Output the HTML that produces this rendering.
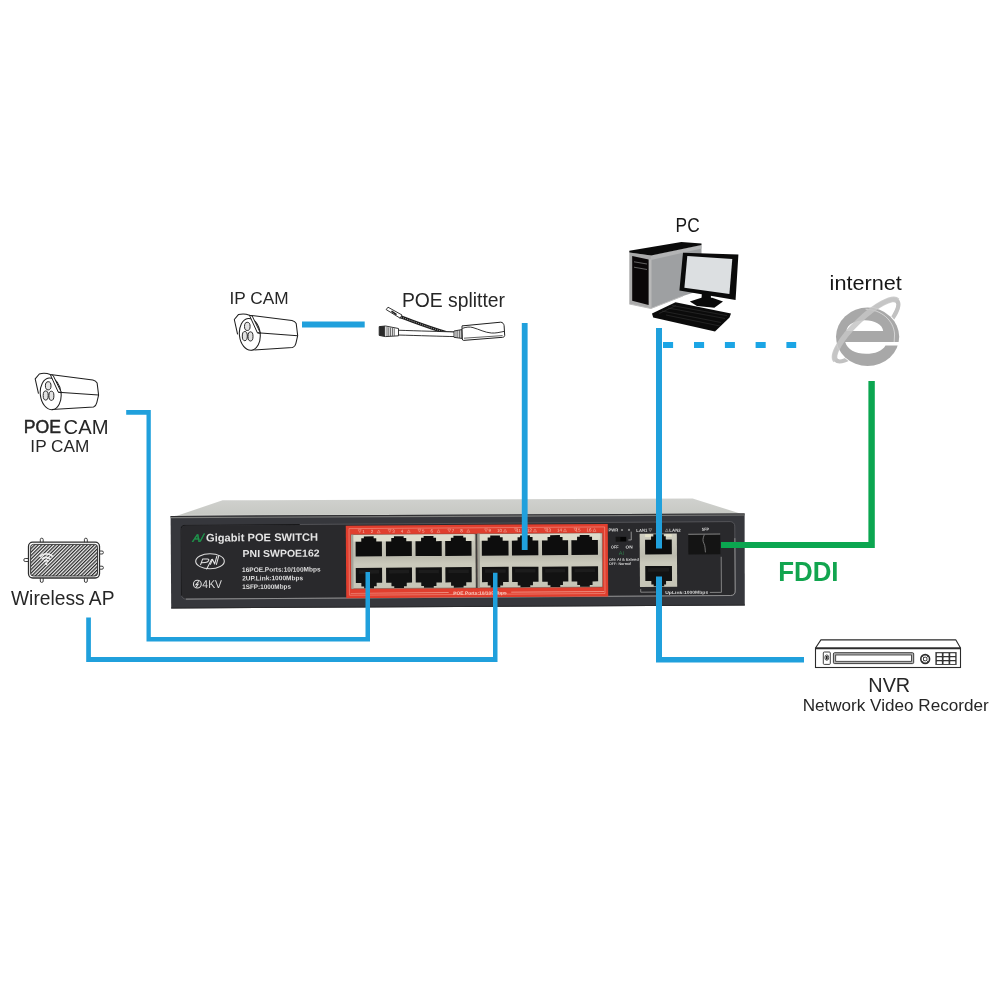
<!DOCTYPE html>
<html><head><meta charset="utf-8">
<style>
html,body{margin:0;padding:0;background:#fff;}
body{width:1000px;height:1000px;overflow:hidden;position:relative;font-family:"Liberation Sans",sans-serif;}
svg{position:absolute;left:0;top:0;will-change:transform;}
</style></head>
<body>
<svg width="1000" height="1000" viewBox="0 0 1000 1000" font-family="Liberation Sans, sans-serif">
<defs>
  <pattern id="hatch" patternUnits="userSpaceOnUse" width="2.48" height="2.48" patternTransform="rotate(45)">
    <rect width="2.48" height="2.48" fill="#f4f4f4"/>
    <rect width="1.25" height="2.48" fill="#2c2c2c"/>
  </pattern>
  <linearGradient id="topg" x1="0" y1="0" x2="0" y2="1">
    <stop offset="0" stop-color="#d0d1ce"/>
    <stop offset="0.85" stop-color="#c7c9c4"/>
    <stop offset="1" stop-color="#d6d7d4"/>
  </linearGradient>
  <linearGradient id="portg" x1="0" y1="0" x2="0" y2="1">
    <stop offset="0" stop-color="#cfcec1"/>
    <stop offset="0.42" stop-color="#bcbbae"/>
    <stop offset="0.55" stop-color="#cac9bb"/>
    <stop offset="1" stop-color="#c6c5b7"/>
  </linearGradient>
</defs>

<!-- ============ LINES (behind) ============ -->
<g fill="#1ba5e5">
  <rect x="663" y="342" width="10.1" height="6"/>
  <rect x="694" y="342" width="10.1" height="6"/>
  <rect x="724.9" y="342" width="10" height="6"/>
  <rect x="755.6" y="342" width="10.1" height="6"/>
  <rect x="786.4" y="342" width="9.8" height="6"/>
</g>

<!-- ============ SWITCH ============ -->
<g id="switch">
  <polygon points="174.8,516.4 222.6,500.3 692.6,498.4 741,513.8" fill="url(#topg)"/>
  <polygon points="170.6,516 744.6,513.4 744.8,605.4 171.2,608.4" fill="#36373c"/>
  <polygon points="170.6,516 744.6,513.4 744.6,514.5 170.6,517.1" fill="#2e2e30"/>
  <polygon points="170.6,517.1 744.6,514.5 744.6,515.6 170.6,518.2" fill="#7d7e7c"/>
  <polygon points="171.2,607.4 744.8,604.4 744.8,605.4 171.2,608.4" fill="#2a2a2c"/>
  <g transform="rotate(-0.38 458 560)">
    <rect x="181.2" y="523.4" width="553.8" height="73.9" rx="4.5" fill="#29292c" stroke="#56575b" stroke-width="0.9"/>
    <path d="M181.2,594 V527.9 Q181.2,523.4 185.7,523.4 H300" fill="none" stroke="#18181a" stroke-width="1"/>
    <path d="M185.7,597.3 H730.5 Q735,597.3 735,592.8 V540" fill="none" stroke="#9c9c9c" stroke-width="0.8"/>
    <!-- left label texts -->
    <text transform="translate(192.2,539.9) skewX(-13)" font-size="10.6" fill="#1f9b4e" stroke="#1f9b4e" stroke-width="0.4" textLength="11" lengthAdjust="spacingAndGlyphs">A/</text>
    <text x="206.2" y="539.9" font-size="10.9" font-weight="bold" fill="#e4e4e4" textLength="112" lengthAdjust="spacingAndGlyphs">Gigabit POE SWITCH</text>
    <text x="242.6" y="555.6" font-size="10" font-weight="bold" fill="#e4e4e4" textLength="77" lengthAdjust="spacingAndGlyphs">PNI SWPOE162</text>
    <text x="242" y="570.6" font-size="6.6" font-weight="bold" fill="#dedede" textLength="78.5" lengthAdjust="spacingAndGlyphs">16POE.Ports:10/100Mbps</text>
    <text x="242" y="579.1" font-size="6.6" font-weight="bold" fill="#dedede" textLength="61" lengthAdjust="spacingAndGlyphs">2UP.Link:1000Mbps</text>
    <text x="242" y="587.7" font-size="6.6" font-weight="bold" fill="#dedede" textLength="48.8" lengthAdjust="spacingAndGlyphs">1SFP:1000Mbps</text>
    <!-- PNI logo -->
    <ellipse cx="210" cy="559.6" rx="14.3" ry="7.5" fill="none" stroke="#dcdcdc" stroke-width="1.1"/>
    <g fill="none" stroke="#e2e2e2" stroke-width="1.05" stroke-linecap="round" stroke-linejoin="round">
      <path d="M200.6,562.9 L202.6,557.4 L207.6,557.4 Q209.4,557.6 208.6,559.2 Q207.8,560.8 205.2,560.9 L201.9,561"/>
      <path d="M211.6,557.8 L206.6,567.4"/>
      <path d="M210.4,562.6 L212.5,557.6 L214.6,562.4 L216.9,554.6"/>
      <path d="M218.8,554.2 L216.4,562.8"/>
    </g>
    <!-- 4KV -->
    <circle cx="197.2" cy="582.4" r="3.9" fill="none" stroke="#dcdcdc" stroke-width="1.1"/>
    <path d="M198.6,579.6 L195.6,583 L198,582.6 L196,585.4" fill="none" stroke="#dcdcdc" stroke-width="1"/>
    <text x="202.2" y="586.4" font-size="11.2" fill="#dcdcdc" textLength="19.7" lengthAdjust="spacingAndGlyphs">4KV</text>

    <!-- red frame -->
    <rect x="346" y="524.9" width="262" height="72.5" fill="#e03e2e"/>
    <rect x="349.2" y="527.9" width="255.6" height="66.6" fill="none" stroke="#f49a8a" stroke-width="0.6"/>
    <!-- port blocks -->
    <rect x="351.2" y="534" width="124.9" height="54" fill="url(#portg)" stroke="#6b4a40" stroke-width="0.5"/>
    <rect x="477.3" y="534" width="125.1" height="54" fill="url(#portg)" stroke="#6b4a40" stroke-width="0.5"/>
    <rect x="475.7" y="534" width="1.9" height="54" fill="#3e3e3c"/>
    <rect x="353.5" y="534.4" width="120.5" height="6.4" fill="#dedccc"/>
    <rect x="479.6" y="534.4" width="120.5" height="6.4" fill="#dedccc"/>
    <rect x="477.6" y="534" width="2.2" height="54" fill="#9a9a90"/>
    <rect x="351.2" y="534" width="2.2" height="54" fill="#a4a49a"/>
    
<g id="ports">
<path d="M355.7,541 H361.4 V537.6 H364.0 V535.8 H373.8 V537.6 H376.4 V541 H382.0 V555.8 H355.7 Z" fill="#0d0d0d"/>
<path d="M355.7,567.2 H382.0 V582.3 H376.5 V585.8 H373.8 V587.6 H364.0 V585.8 H361.2 V582.3 H355.7 Z" fill="#121212"/>
<rect x="358.7" y="569.5" width="20.3" height="3.5" fill="#2a2a2a" opacity="0.45"/>
<path d="M386.0,541 H391.4 V537.6 H394.1 V535.8 H403.8 V537.6 H406.4 V541 H411.9 V555.8 H386.0 Z" fill="#0d0d0d"/>
<path d="M386.0,567.2 H411.9 V582.3 H406.6 V585.8 H403.8 V587.6 H394.1 V585.8 H391.3 V582.3 H386.0 Z" fill="#121212"/>
<rect x="389.0" y="569.5" width="19.9" height="3.5" fill="#2a2a2a" opacity="0.45"/>
<path d="M415.6,541 H421.2 V537.6 H423.8 V535.8 H433.6 V537.6 H436.2 V541 H441.8 V555.8 H415.6 Z" fill="#0d0d0d"/>
<path d="M415.6,567.2 H441.8 V582.3 H436.3 V585.8 H433.6 V587.6 H423.8 V585.8 H421.1 V582.3 H415.6 Z" fill="#121212"/>
<rect x="418.6" y="569.5" width="20.2" height="3.5" fill="#2a2a2a" opacity="0.45"/>
<path d="M445.3,541 H451.0 V537.6 H453.6 V535.8 H463.4 V537.6 H466.0 V541 H471.6 V555.8 H445.3 Z" fill="#0d0d0d"/>
<path d="M445.3,567.2 H471.6 V582.3 H466.1 V585.8 H463.4 V587.6 H453.6 V585.8 H450.9 V582.3 H445.3 Z" fill="#121212"/>
<rect x="448.3" y="569.5" width="20.3" height="3.5" fill="#2a2a2a" opacity="0.45"/>
<path d="M481.9,541 H487.8 V537.6 H490.4 V535.8 H500.1 V537.6 H502.8 V541 H508.6 V555.8 H481.9 Z" fill="#0d0d0d"/>
<path d="M481.9,567.2 H508.6 V582.3 H502.9 V585.8 H500.1 V587.6 H490.4 V585.8 H487.6 V582.3 H481.9 Z" fill="#121212"/>
<rect x="484.9" y="569.5" width="20.7" height="3.5" fill="#2a2a2a" opacity="0.45"/>
<path d="M512.0,541 H517.7 V537.6 H520.3 V535.8 H530.1 V537.6 H532.7 V541 H538.4 V555.8 H512.0 Z" fill="#0d0d0d"/>
<path d="M512.0,567.2 H538.4 V582.3 H532.8 V585.8 H530.1 V587.6 H520.3 V585.8 H517.6 V582.3 H512.0 Z" fill="#121212"/>
<rect x="515.0" y="569.5" width="20.4" height="3.5" fill="#2a2a2a" opacity="0.45"/>
<path d="M542.1,541 H547.7 V537.6 H550.3 V535.8 H560.1 V537.6 H562.7 V541 H568.2 V555.8 H542.1 Z" fill="#0d0d0d"/>
<path d="M542.1,567.2 H568.2 V582.3 H562.8 V585.8 H560.1 V587.6 H550.3 V585.8 H547.6 V582.3 H542.1 Z" fill="#121212"/>
<rect x="545.1" y="569.5" width="20.1" height="3.5" fill="#2a2a2a" opacity="0.45"/>
<path d="M571.5,541 H577.2 V537.6 H579.9 V535.8 H589.6 V537.6 H592.2 V541 H598.0 V555.8 H571.5 Z" fill="#0d0d0d"/>
<path d="M571.5,567.2 H598.0 V582.3 H592.4 V585.8 H589.6 V587.6 H579.9 V585.8 H577.1 V582.3 H571.5 Z" fill="#121212"/>
<rect x="574.5" y="569.5" width="20.5" height="3.5" fill="#2a2a2a" opacity="0.45"/>
</g>
<g fill="#f7c2b4" font-size="4.5">
<text x="364.9" y="532.3" text-anchor="end">1</text><text x="370.9" y="532.3">2</text>
<path d="M358.4,529 h3 l-1.5,2.8z M377.4,532.3 h3 l-1.5,-2.8z" fill="none" stroke="#f2b0a0" stroke-width="0.45"/>
<text x="394.9" y="532.3" text-anchor="end">3</text><text x="400.9" y="532.3">4</text>
<path d="M388.4,529 h3 l-1.5,2.8z M407.4,532.3 h3 l-1.5,-2.8z" fill="none" stroke="#f2b0a0" stroke-width="0.45"/>
<text x="424.7" y="532.3" text-anchor="end">5</text><text x="430.7" y="532.3">6</text>
<path d="M418.2,529 h3 l-1.5,2.8z M437.2,532.3 h3 l-1.5,-2.8z" fill="none" stroke="#f2b0a0" stroke-width="0.45"/>
<text x="454.5" y="532.3" text-anchor="end">7</text><text x="460.5" y="532.3">8</text>
<path d="M448.0,529 h3 l-1.5,2.8z M467.0,532.3 h3 l-1.5,-2.8z" fill="none" stroke="#f2b0a0" stroke-width="0.45"/>
<text x="491.2" y="532.3" text-anchor="end">9</text><text x="497.2" y="532.3">10</text>
<path d="M484.8,529 h3 l-1.5,2.8z M503.8,532.3 h3 l-1.5,-2.8z" fill="none" stroke="#f2b0a0" stroke-width="0.45"/>
<text x="521.2" y="532.3" text-anchor="end">11</text><text x="527.2" y="532.3">12</text>
<path d="M514.7,529 h3 l-1.5,2.8z M533.7,532.3 h3 l-1.5,-2.8z" fill="none" stroke="#f2b0a0" stroke-width="0.45"/>
<text x="551.2" y="532.3" text-anchor="end">13</text><text x="557.2" y="532.3">14</text>
<path d="M544.7,529 h3 l-1.5,2.8z M563.7,532.3 h3 l-1.5,-2.8z" fill="none" stroke="#f2b0a0" stroke-width="0.45"/>
<text x="580.8" y="532.3" text-anchor="end">15</text><text x="586.8" y="532.3">16</text>
<path d="M574.2,529 h3 l-1.5,2.8z M593.2,532.3 h3 l-1.5,-2.8z" fill="none" stroke="#f2b0a0" stroke-width="0.45"/>
</g>
    <!-- bottom red label -->
    <rect x="350.5" y="592.2" width="98" height="0.7" fill="#f2a597"/>
    <rect x="511" y="592.2" width="93" height="0.7" fill="#f2a597"/>
    <text x="453" y="594.6" font-size="4.3" font-weight="bold" fill="#f8d0c4" textLength="53.5" lengthAdjust="spacingAndGlyphs">POE Ports:10/100Mbps</text>

    <!-- PWR area -->
    <g fill="#d8d8d8" font-weight="bold">
      <text x="608.6" y="532.6" font-size="4.3" textLength="9.8" lengthAdjust="spacingAndGlyphs">PWR</text>
      <text x="611" y="549.6" font-size="4.3" textLength="7.6" lengthAdjust="spacingAndGlyphs">OFF</text>
      <text x="625.6" y="549.6" font-size="4.3" textLength="7.2" lengthAdjust="spacingAndGlyphs">ON</text>
      <text x="609" y="561.9" font-size="3.7" textLength="29.8" lengthAdjust="spacingAndGlyphs">ON: AI &amp; Extend</text>
      <text x="609" y="566" font-size="3.7" textLength="21.9" lengthAdjust="spacingAndGlyphs">OFF: Normal</text>
      <text x="636.5" y="533.1" font-size="4.4" textLength="11" lengthAdjust="spacingAndGlyphs">LAN1</text>
      <text x="669.5" y="533.1" font-size="4.4" textLength="11.4" lengthAdjust="spacingAndGlyphs">LAN2</text>
      <text x="702" y="532.4" font-size="4.3" textLength="7.2" lengthAdjust="spacingAndGlyphs">SFP</text>
      <text x="665" y="595.4" font-size="4.3" textLength="43" lengthAdjust="spacingAndGlyphs">UpLink:1000Mbps</text>
    </g>
    <path d="M649,530 h3 l-1.5,2.8z M665.5,533 h3 l-1.5,-2.8z" fill="none" stroke="#bbb" stroke-width="0.5"/>
    <text x="618.9" y="556.1" font-size="5.3" fill="#2f7a4a" textLength="5.3" lengthAdjust="spacingAndGlyphs">AI</text>
    <circle cx="622.2" cy="531.1" r="1.1" fill="#8a8a8a"/>
    <circle cx="629.2" cy="531.1" r="1.1" fill="#8a8a8a"/>
    <path d="M631.4,532.8 V541.1 H628.5" fill="none" stroke="#bdbdbd" stroke-width="0.7"/>
    <rect x="615.8" y="537.9" width="10.8" height="4.8" fill="#151515"/>
    <rect x="620.5" y="538.2" width="5.6" height="4.2" fill="#050505"/>
    <!-- LAN block -->
    <rect x="639.8" y="535" width="37.2" height="53.3" fill="url(#portg)"/>
    <rect x="645.2" y="535.6" width="6" height="2.6" fill="#e4e2c8"/>
    <rect x="665.9" y="535.6" width="6" height="2.6" fill="#e4e2c8"/>
    <path d="M645.2,541 H651.2 V537.7 H653.5 V535.5 H664 V537.7 H665.9 V541 H671.9 V555.7 H645.2 Z" fill="#0d0d0d"/>
    <path d="M645.2,567.3 H671.9 V582.3 H665.9 V585.8 H664 V587.5 H653.5 V585.8 H651.2 V582.3 H645.2 Z" fill="#121212"/>
    <rect x="648" y="569.5" width="21" height="3.5" fill="#2a2a2a" opacity="0.45"/>
    <!-- uplink bracket -->
    <path d="M640.5,590.3 V593.4 H655.5 M709.6,594.1 H721.2 V558.5" fill="none" stroke="#a8a8a8" stroke-width="0.7"/>
    <!-- SFP -->
    <rect x="688.4" y="535.2" width="32" height="20.8" fill="#141414"/>
    <rect x="688.4" y="535.2" width="32" height="1.1" fill="#8c8c8c"/>
    <path d="M704.5,536.3 C703,540 702.5,542 704,545 C705.5,548 705,551 705.5,554" fill="none" stroke="#8a8a8a" stroke-width="0.8"/>
  </g>
</g>

<!-- ============ LINES (front) ============ -->
<polygon fill="#0ba650" points="868.4,381 874.8,381 874.8,548 721,548 721,542 868.4,542"/>
<g fill="#20a0dc">
  <polygon points="126.2,410 150.8,410 150.8,637 365.5,637 365.5,572 370,572 370,641.6 146.5,641.6 146.5,414.8 126.2,414.8"/>
  <polygon points="86.2,617.5 90.9,617.5 90.9,657 493,657 493,572.7 497.5,572.7 497.5,662 86.2,662"/>
  <rect x="302" y="321.5" width="62.7" height="6"/>
  <rect x="521.8" y="323" width="5.8" height="227"/>
  <rect x="656" y="328" width="6" height="220.5"/>
  <polygon points="656,576.5 662,576.5 662,657 804,657 804,662.4 656,662.4"/>
</g>

<!-- ============ ICONS ============ -->
<defs>
  <g id="cam">
    <path d="M3.6,21.3 L0.3,6.5 L4.4,1.6 Q10,0 15.4,2.2 L57.9,7.6 C60,8.2 61.5,9.3 62.2,10.5 L63.7,22.7 L61.9,30.3 C61.4,32.6 60.2,34 58.6,34.6 L16.9,37.1" fill="#fff" stroke="#1e1e1e" stroke-width="1.05" stroke-linejoin="round"/>
    <ellipse cx="15.8" cy="21.4" rx="10.4" ry="15.9" transform="rotate(-6 15.8 21.4)" fill="#fff" stroke="#1e1e1e" stroke-width="1.05"/>
    <path d="M15.4,2.2 L18.2,3 L26.6,20.4 L23.4,19.8 Z" fill="#fff" stroke="#1e1e1e" stroke-width="1" stroke-linejoin="round"/>
    <path d="M23.4,19.8 L63.7,22.7" fill="none" stroke="#1e1e1e" stroke-width="1.05"/>
    <g fill="#e2e2e2" stroke="#1e1e1e" stroke-width="0.95">
      <ellipse cx="13.3" cy="13.4" rx="2.8" ry="4.1"/>
      <ellipse cx="10.8" cy="23.1" rx="2.5" ry="4.6"/>
      <ellipse cx="16.5" cy="23.4" rx="2.5" ry="4.6"/>
    </g>
  </g>
</defs>
<use href="#cam" transform="translate(234,313)"/>
<use href="#cam" transform="translate(34.9,372.4)"/>

<!-- POE splitter -->
<g stroke="#1e1e1e" fill="#fff" stroke-linejoin="round">
  <!-- DC cable twisted -->
  <path d="M399.5,316.5 C415,322 430,328 446,332.5 L455,333.2" fill="none" stroke="#1e1e1e" stroke-width="3"/>
  <path d="M399.5,316.5 C415,322 430,328 446,332.5 L455,333.2" fill="none" stroke="#fff" stroke-width="0.9" stroke-dasharray="0.6 1.4"/>
  <!-- DC plug -->
  <path d="M386.2,309.6 L388,307.2 L402,315 L400.2,318.2 Z" stroke-width="0.9"/>
  <path d="M391.5,311.2 L396.5,314.6" stroke-width="1.6"/>
  <!-- main cable -->
  <path d="M397.5,330.2 C420,331 440,331.5 455,332 L455,336.6 C440,336.3 420,335.6 397.5,335" stroke-width="0.9"/>
  <!-- RJ45 -->
  <path d="M379.2,326.6 L385.6,326 L398.5,328.5 L398.5,335.8 L385.6,336.6 L379.2,335.4 Z" fill="#fff" stroke-width="0.9"/>
  <path d="M379.6,326.8 L384.8,326.4 L384.8,336.2 L379.6,335.2 Z" fill="#2a2a2a" stroke-width="0.6"/>
  <path d="M387,327 V336.2 M388.8,327.3 V336.2 M390.6,327.6 V336 M392.4,328 V335.9 M394.2,328.3 V335.8" stroke-width="0.7" fill="none"/>
  <!-- strain relief -->
  <path d="M454,331 L462.3,329.5 L462.3,338.5 L454,337.3 Z" stroke-width="0.9"/>
  <path d="M456,330.8 V337.5 M457.8,330.5 V337.8 M459.6,330.1 V338 M461.2,329.8 V338.2" stroke-width="0.7" fill="none"/>
  <!-- box -->
  <path d="M462,325.9 L500.7,322.2 C502.8,322.2 503.8,324 504.1,325.6 L504.7,335.4 C504.7,336.6 503.8,337.2 502.6,337.3 L463.5,340.4 C462.8,340.4 462.3,339.8 462.3,339 L462,328 C462,327 462,326.4 462,325.9 Z" stroke-width="1"/>
  <path d="M462.3,328.4 C466,327 470,326.6 473,327.6 C479,329.3 485,332.6 491.4,333 C496,333.3 500,332.2 504.2,331.4" fill="none" stroke-width="0.9"/>
  <path d="M464,338.2 L502.6,335.6" fill="none" stroke-width="0.7"/>
</g>

<!-- Wireless AP -->
<g>
  <g fill="#fff" stroke="#2a2a2a" stroke-width="0.9">
    <rect x="40.3" y="538.2" width="2.9" height="5.4" rx="1.4"/>
    <rect x="84.4" y="538.2" width="2.9" height="5.4" rx="1.4"/>
    <rect x="40.3" y="577" width="2.9" height="5.4" rx="1.4"/>
    <rect x="84.4" y="577" width="2.9" height="5.4" rx="1.4"/>
    <rect x="23.8" y="558.5" width="6" height="3" rx="1.4"/>
    <rect x="98" y="551" width="5.4" height="3" rx="1.4"/>
    <rect x="98" y="566.2" width="5.4" height="3" rx="1.4"/>
  </g>
  <rect x="28.5" y="542.2" width="71" height="35.8" rx="4.2" fill="#fff" stroke="#2e2e2e" stroke-width="1.3"/>
  <rect x="30.6" y="544.4" width="66.9" height="31.6" rx="2.8" fill="url(#hatch)" stroke="#2e2e2e" stroke-width="0.9"/>
  <g fill="none" stroke="#f6f6f6" stroke-width="1.9" opacity="0.92">
    <path d="M39.6,556.6 A9.4,9.4 0 0 1 52.9,556.6"/>
    <path d="M41.8,559.2 A6.2,6.2 0 0 1 50.6,559.2"/>
    <path d="M44,561.6 A3,3 0 0 1 48.4,561.6"/>
  </g>
  <circle cx="46.2" cy="563.8" r="1.2" fill="#f6f6f6"/>
</g>

<!-- PC -->
<g>
  <!-- tower side face -->
  <polygon points="651,255.6 701.5,245 701.5,290 683,296 651,308.5" fill="#9ea0a2"/>
  <polygon points="651,255.6 701.5,245 701.5,248.5 651,260" fill="#b3b4b5"/>
  <!-- tower front face -->
  <polygon points="629.3,252.4 651,255.6 651,308.5 629.3,304" fill="#aaaaaa"/>
  <polygon points="648.6,259 651.5,259.6 651.5,308 648.6,307" fill="#b8b8b8"/>
  <polygon points="632.2,256.1 648.6,259.6 648.6,305 632.2,300.8" fill="#0a0708"/>
  <path d="M634,261.8 L647,264 M634,267.2 L647,269.5" stroke="#8a8a8a" stroke-width="0.7"/>
  <!-- tower top -->
  <polygon points="629.3,250.8 681.4,242 701.5,243.6 701.5,245 651,255.6 629.3,252.4" fill="#0a0a0a"/>
  <!-- tower bottom edge highlight -->
  <path d="M629.3,304 L651,308.5 L683,296" fill="none" stroke="#bdbdbd" stroke-width="1"/>
  <!-- monitor -->
  <polygon points="683,252.8 738.4,254.6 735.6,300 679.4,290.6" fill="#0a0a0a"/>
  <polygon points="687.3,256.1 732.3,259 729.4,293.9 684.4,287.8" fill="#dcdfe1"/>
  <polygon points="702,292 710.7,292.5 711,299 701.5,298.8" fill="#0a0a0a"/>
  <polygon points="689.8,301.4 701.4,297.8 712.2,297.8 723,301.4 714.3,307.8 697,306" fill="#0a0a0a"/>
  <!-- keyboard -->
  <polygon points="652,313.6 675.5,302.3 731,313.4 729.5,317.5 715,331.6 653.2,317.6" fill="#0b0b0b"/>
  <g stroke="#3a3a3a" stroke-width="0.5" fill="none">
    <path d="M659,313.5 L676,305.5 M666,315 L720,326 M662,311 L721,322.5 M668,308 L725,318.5 M672,305.5 L727,315.6"/>
  </g>
</g>

<!-- IE logo -->
<g>
  <ellipse cx="866.5" cy="330.5" rx="42.6" ry="12.2" transform="rotate(-44 866.5 330.5)" fill="none" stroke="#c1c1c1" stroke-width="4.3"/>
  <ellipse cx="867.6" cy="336.8" rx="32.5" ry="30.1" fill="#fff"/>
  <ellipse cx="867.6" cy="336.8" rx="31.6" ry="29.2" fill="#a8a8a8"/>
  <path fill="#fff" d="M846.4,331 C847,324.5 855,320.2 864.8,320.2 C874.5,320.2 882.6,324.5 883.2,331 Z
     M845.2,342 L900,342 L900,345.4 L885.5,345.4 C882.5,350.8 875,353.8 866,353.8 C855,353.8 847.5,349.5 845.2,342 Z"/>
  <path d="M865.6,309.2 C881,309.5 893.5,320 894.6,334 L894,345" fill="none" stroke="#fff" stroke-width="0.6" opacity="0.85"/>
  <path d="M835.57,360.37 A43,12.2 -44 0 1 897.43,300.63" fill="none" stroke="#c6c6c6" stroke-width="5.6" opacity="0.85"/>
</g>

<!-- NVR -->
<g fill="#fff" stroke="#2b2b2b">
  <path d="M815.5,648 L820.9,639.9 L955.9,639.9 L960.5,648 Z" stroke-width="1.1" stroke-linejoin="round"/>
  <rect x="815.5" y="648.3" width="145" height="19.2" stroke-width="1.1"/>
  <path d="M815.5,648.5 H960.5" stroke-width="1.7"/>
  <rect x="823.3" y="652" width="7" height="12.4" rx="1" stroke-width="0.9"/>
  <ellipse cx="826.8" cy="657.6" rx="1.9" ry="2.7" fill="#e8e8e8" stroke-width="0.8"/>
  <rect x="826" y="656" width="1.6" height="3.4" fill="#222" stroke="none"/>
  <rect x="833.4" y="652.7" width="80.3" height="10.9" rx="1.2" fill="#b4b4b4" stroke-width="0.9"/>
  <rect x="835.7" y="655" width="75.7" height="6.3" stroke-width="0.8"/>
  <circle cx="925.2" cy="659" r="4.4" stroke-width="1.6"/>
  <circle cx="925.2" cy="659" r="1.9" stroke-width="0.9"/>
  <path d="M922.2,656 L923.8,657.6 M928.2,656 L926.6,657.6 M922.2,662 L923.8,660.4 M928.2,662 L926.6,660.4" stroke-width="1"/>
  <rect x="935.8" y="652.3" width="20.4" height="12.4" fill="#333" stroke="#333" stroke-width="0.6"/>
  <rect x="936.8" y="653.3" width="5.1" height="2.6" rx="0.5" fill="#fff" stroke="none"/>
  <rect x="943.5" y="653.3" width="5.1" height="2.6" rx="0.5" fill="#fff" stroke="none"/>
  <rect x="950.2" y="653.3" width="5.1" height="2.6" rx="0.5" fill="#fff" stroke="none"/>
  <rect x="936.8" y="657.3" width="5.1" height="2.6" rx="0.5" fill="#fff" stroke="none"/>
  <rect x="943.5" y="657.3" width="5.1" height="2.6" rx="0.5" fill="#fff" stroke="none"/>
  <rect x="950.2" y="657.3" width="5.1" height="2.6" rx="0.5" fill="#fff" stroke="none"/>
  <rect x="936.8" y="661.3" width="5.1" height="2.6" rx="0.5" fill="#fff" stroke="none"/>
  <rect x="943.5" y="661.3" width="5.1" height="2.6" rx="0.5" fill="#fff" stroke="none"/>
  <rect x="950.2" y="661.3" width="5.1" height="2.6" rx="0.5" fill="#fff" stroke="none"/>
</g>

<!-- ============ TEXT LABELS ============ -->
<g>
<text transform="translate(229.55,303.73) scale(0.17239,0.16761)" font-size="100" fill="#262626">IP CAM</text>
<text transform="translate(401.9,306.6) scale(0.19342,0.19507)" font-size="100" fill="#262626">POE splitter</text>
<text transform="translate(23.84,433.46) scale(0.17638,0.19014)" font-size="100" fill="#262626" stroke="#262626" stroke-width="2.6" stroke-linejoin="round">POE</text>
<text transform="translate(63.59,433.61) scale(0.20239,0.19437)" font-size="100" fill="#262626">CAM</text>
<text transform="translate(30.35,451.63) scale(0.17209,0.17324)" font-size="100" fill="#262626">IP CAM</text>
<text transform="translate(11.01,604.7) scale(0.19212,0.19855)" font-size="100" fill="#262626">Wireless AP</text>
<text transform="translate(675.61,231.79) scale(0.17323,0.20563)" font-size="100" fill="#161616">PC</text>
<text transform="translate(829.58,290.3) scale(0.21687,0.20338)" font-size="100" fill="#161616">internet</text>
<text transform="translate(868.31,691.8) scale(0.19848,0.20435)" font-size="100" fill="#262626">NVR</text>
<text transform="translate(802.63,710.6) scale(0.17124,0.16667)" font-size="100" fill="#262626">Network Video Recorder</text>
<text transform="translate(778.19,580.7) scale(0.25864,0.26957)" font-size="100" font-weight="bold" fill="#12a54f">FDDI</text>
</g>

</svg>
</body></html>
